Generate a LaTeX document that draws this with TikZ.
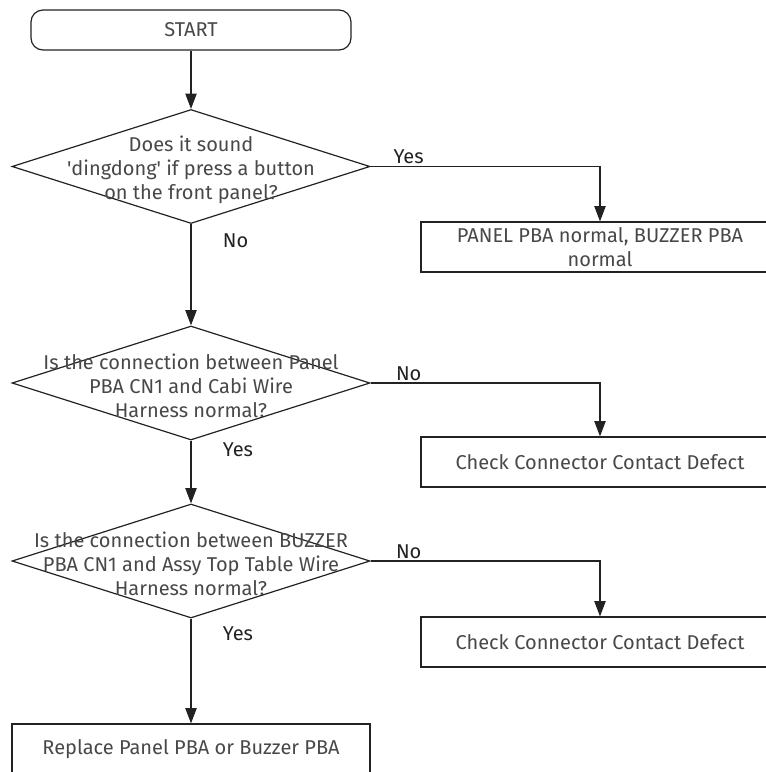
\documentclass[tikz,border=0pt]{standalone}
\usepackage{fontspec}
\setmainfont{Fira Sans}
\usepackage{tikz}
\usetikzlibrary{arrows.meta,positioning,shapes.geometric}
\definecolor{fcInk}{HTML}{222222}
\definecolor{fcText}{HTML}{484848}
\tikzset{
  fc diagram/.style={font=\fontsize{15}{18}\selectfont, text=fcText,
    line join=miter},
  fc start/.style={draw=fcInk, line width=0.9pt, rounded corners=9pt,
    minimum width=240pt, minimum height=30pt, inner sep=0pt},
  fc decision/.style={diamond, draw=fcInk, line width=0.9pt,
    minimum width=268.5pt, minimum height=85.5pt, inner sep=0pt},
  fc box/.style={draw=fcInk, line width=0.9pt, minimum width=268.5pt,
    minimum height=37.5pt, align=center, inner sep=0pt},
  fc text/.style={align=center, inner sep=0pt, yshift=-2.25pt},
  fc arrow/.style={-{Triangle[length=11.5pt,width=8.5pt]}, draw=fcInk, line width=0.9pt},
  fc label/.style={text=fcInk, inner sep=1.5pt}
}
\begin{document}
\begin{tikzpicture}[fc diagram,x=0.75pt,y=-0.75pt]
\useasboundingbox (0,0) rectangle (766,772);
\clip (0,0) rectangle (766,772);
% main column
\node[fc start] (start) at (191,30) {START};
\node[fc decision] (q1) at (191,166.5) {};
\node[fc text] (q1t) at (q1) {Does it sound\\\textquotesingle dingdong\textquotesingle{} if press a button\\on the front panel?};
\node[fc decision] (q2) at (191,383) {};
\node[fc text] (q2t) at (q2) {Is the connection between Panel\\PBA CN1 and Cabi Wire\\Harness normal?};
\node[fc decision] (q3) at (191,561) {};
\node[fc text] (q3t) at (q3) {Is the connection between BUZZER\\PBA CN1 and Assy Top Table Wire\\Harness normal?};
\node[fc box] (r4) at (191,749) {Replace Panel PBA or Buzzer PBA};
% side column
\node[fc box] (r1) at (600,247) {PANEL PBA normal, BUZZER PBA\\normal};
\node[fc box] (r2) at (600,462) {Check Connector Contact Defect};
\node[fc box] (r3) at (600,642) {Check Connector Contact Defect};
% connectors
\draw[fc arrow] (start.south) -- (q1.north);
\draw[fc arrow] (q1.east) -| node[fc label, pos=0.083, above] (yes1) {Yes} (r1.north);
\draw[fc arrow] (q1.south) -- node[fc label, pos=0.165, right=22pt] (no1) {No} (q2.north);
\draw[fc arrow] (q2.east) -| node[fc label, pos=0.083, above] (no2) {No} (r2.north);
\draw[fc arrow] (q2.south) -- node[fc label, pos=0.14, right=22pt] (yes2) {Yes} (q3.north);
\draw[fc arrow] (q3.east) -| node[fc label, pos=0.083, above] (no3) {No} (r3.north);
\draw[fc arrow] (q3.south) -- node[fc label, pos=0.14, right=22pt] (yes3) {Yes} (r4.north);
\end{tikzpicture}
\end{document}
